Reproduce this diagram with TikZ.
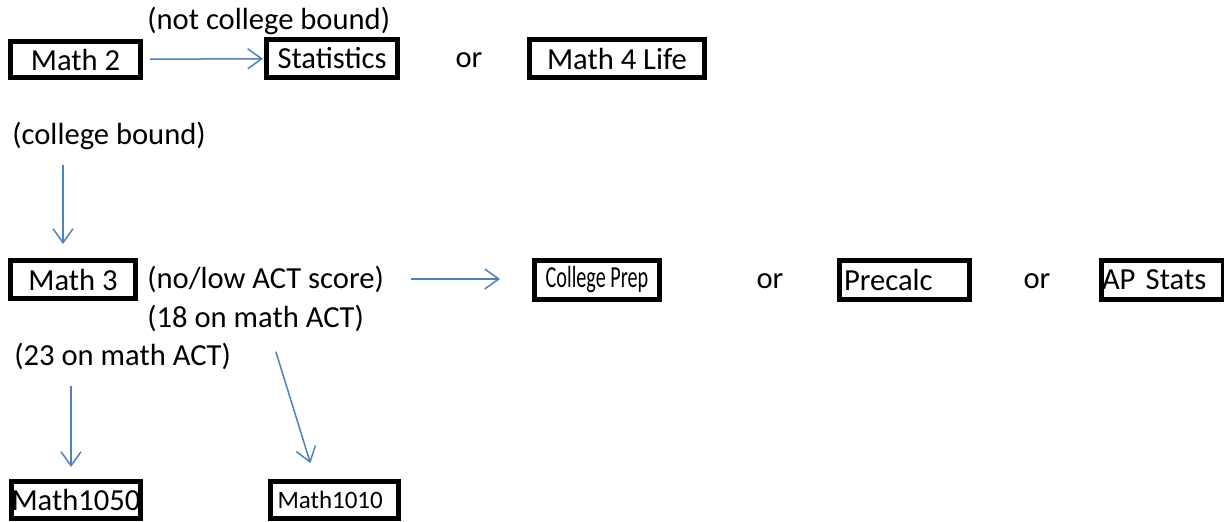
\documentclass[tikz,border=0pt]{standalone}
\usepackage{fontspec}
\setmainfont{Carlito}
\usetikzlibrary{arrows.meta,calc}
\definecolor{flowblue}{RGB}{79,129,189}

\begin{document}
\begin{tikzpicture}[x=.5pt,y=-.5pt,
    every node/.style={font=\fontsize{15.3}{18}\selectfont},
    note/.style={inner sep=0,anchor=west},
    choice/.style={inner sep=0,anchor=base},
    course/.style={draw,line width=2.5pt,inner sep=0,minimum height=19pt},
    flow/.style={flowblue,line width=.75pt,-{Straight Barb[length=7pt,width=10pt]}}]
  \useasboundingbox (0,0) rectangle (1224,522);

  % first row
  \node[course,minimum width=65pt,minimum height=18pt] (mathtwo) at (75.5,59.5) {Math 2};
  \node[note] (notcb) at (147,21) {(not college bound)};
  \node[course,minimum width=65.5pt] (stats) at (332,58.5) {Statistics};
  \node[choice] (ora) at (469,68) {or};
  \node[course,minimum width=87.5pt] (mathlife) at (617,58.5) {Math 4 Life};
  \draw[flow,shorten <=3.5pt,shorten >=.5pt] (mathtwo) -- (stats);

  % college bound
  \node[note] (cb) at (12,136) {(college bound)};
  \node[course,minimum width=62.5pt] (maththree) at (73,279.5) {Math 3};
  \draw[flow,shorten <=7.5pt,shorten >=7pt] (cb.south -| 63,0) -- (maththree.north -| 63,0);

  % second row
  \node[note] (lowact) at (147,279) {(no/low ACT score)};
  \node[course,minimum width=62.5pt,minimum height=19.5pt] (prep) at (597,280)
    {\scalebox{.66}[1]{College Prep}};
  \node[choice] (orb) at (770,289) {or};
  \node[course,text width=60pt,align=left,inner xsep=2.5pt,minimum height=19.5pt] (precalc) at (904,280) {Precalc};
  \node[choice] (orc) at (1037,289) {or};
  \node[course,text width=60pt,align=left,inner xsep=.5pt,minimum height=19.5pt] (apstats) at (1162,280) {AP Stats};
  \draw[flow,shorten <=13.5pt,shorten >=16pt] (lowact.east) -- (prep.west |- lowact.east);

  % ACT scores
  \node[note] (acteighteen) at (147,318) {(18 on math ACT)};
  \node[note] (acttwenty) at (14,356) {(23 on math ACT)};
  \node[course,minimum width=63.5pt,minimum height=18.5pt] (calcone) at (76,500) {Math1050};
  \node[course,text width=57pt,align=left,inner xsep=3.5pt,minimum height=18.5pt,
        font=\fontsize{12.5}{15}\selectfont] (calctwo) at (334.5,500) {Math1010};
  \draw[flow,shorten <=8pt,shorten >=6pt] (acttwenty.south -| 71,0) -- (calcone.north -| 71,0);
  \draw[flow,shorten <=10.4pt,shorten >=8.3pt]
    ([xshift=7pt]acteighteen.south) -- ([xshift=-9.6pt]calctwo.north);
\end{tikzpicture}
\end{document}
